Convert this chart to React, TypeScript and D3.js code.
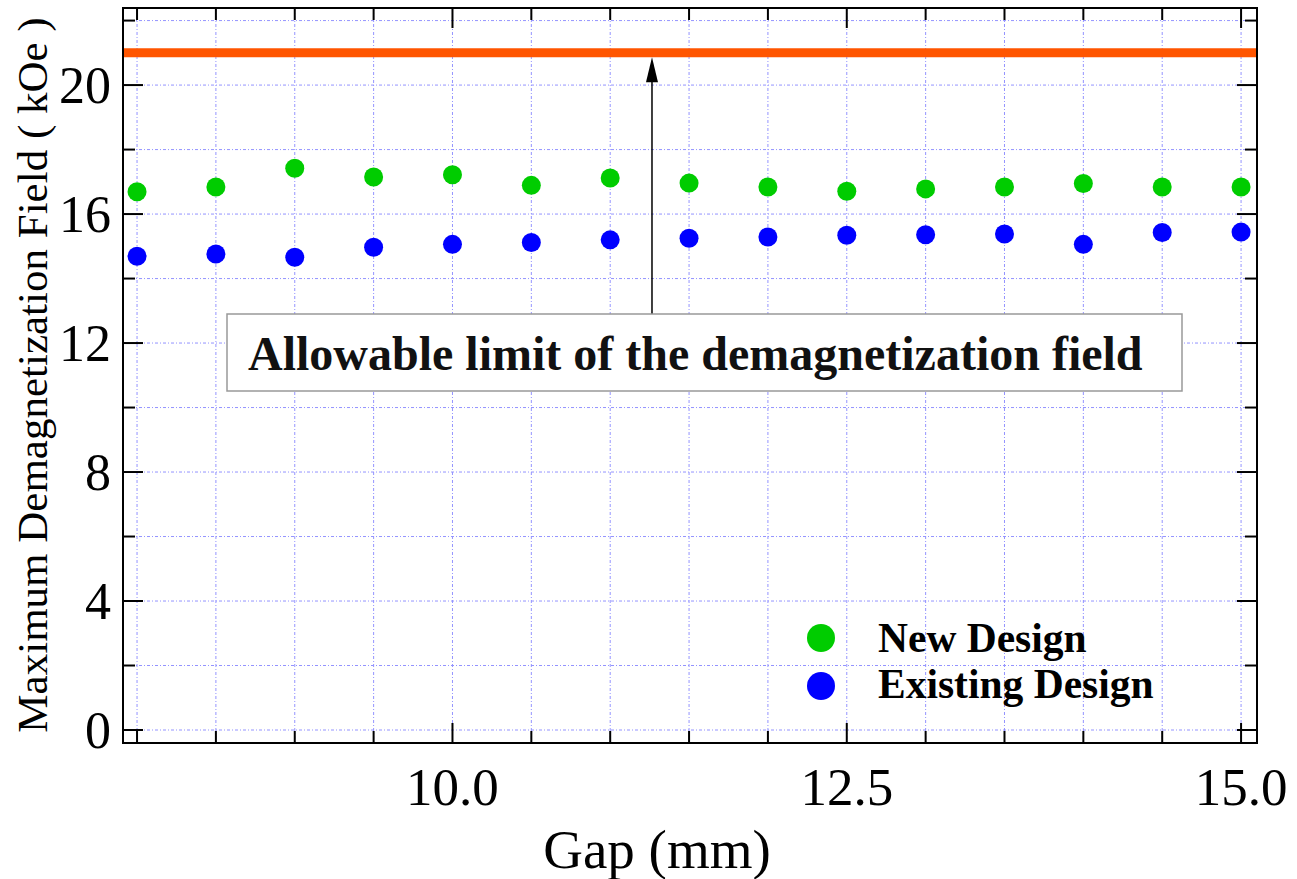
import React from "react";
import * as d3 from "d3";

// Gap between magnets (mm)
const gaps = [8.0, 8.5, 9.0, 9.5, 10.0, 10.5, 11.0, 11.5, 12.0, 12.5, 13.0, 13.5, 14.0, 14.5, 15.0];
// Maximum demagnetization field (kOe)
const newDesign = [16.69, 16.84, 17.42, 17.15, 17.22, 16.89, 17.12, 16.96, 16.84, 16.71, 16.78, 16.84, 16.95, 16.84, 16.84];
const existingDesign = [14.69, 14.76, 14.66, 14.97, 15.06, 15.12, 15.2, 15.25, 15.29, 15.34, 15.36, 15.38, 15.06, 15.43, 15.44];
const allowableLimit = 21;

const yMajorTicks = [0, 4, 8, 12, 16, 20];
const yMinorTicks = [2, 6, 10, 14, 18, 22];
const xMajorTicks = [10.0, 12.5, 15.0];
const xTickLabels = ["10.0", "12.5", "15.0"];
const seriesNames = ["New Design", "Existing Design"];
const seriesColors = ["#00cc00", "#0000ff"];
const annotationText = "Allowable limit of the demagnetization field";
const arrowGap = 11.265;

const W = 1297;
const H = 879;
const plot = { left: 123, right: 1257, top: 8, bottom: 743 };
const FONT = "'Liberation Serif', 'Times New Roman', serif";

export default function App() {
  const x = d3.scaleLinear().domain([7.911, 15.101]).range([plot.left, plot.right]);
  const y = d3.scaleLinear().domain([-0.403, 22.39]).range([plot.bottom, plot.top]);

  const gridStroke = "#7070ff";
  const gridDash = "3,2,1,2";
  const hGrid = d3.range(0, 23, 2);
  const majorLen = 20;
  const minorLen = 12;
  const xMinor = gaps.filter((g) => !xMajorTicks.includes(g));

  const limitY = y(allowableLimit);
  const limitW = 9;
  const arrowX = x(arrowGap);
  const tipY = limitY + limitW / 2;
  const box = { x: 227, y: 314, w: 955, h: 77 };

  return (
    <svg
      width={W}
      height={H}
      viewBox={`0 0 ${W} ${H}`}
      style={{ position: "absolute", left: 0, top: 0, display: "block", background: "#fff" }}
      fontFamily={FONT}
    >
      <rect x={0} y={0} width={W} height={H} fill="#fff" />

      {/* grid */}
      <g stroke={gridStroke} strokeWidth={1} strokeDasharray={gridDash} opacity={0.75}>
        {gaps.map((g) => (
          <line key={`vg${g}`} x1={x(g)} x2={x(g)} y1={plot.top} y2={plot.bottom} />
        ))}
        {hGrid.map((v) => (
          <line key={`hg${v}`} x1={plot.left} x2={plot.right} y1={y(v)} y2={y(v)} />
        ))}
      </g>

      {/* allowable limit */}
      <line x1={plot.left} x2={plot.right} y1={limitY} y2={limitY} stroke="#ff5500" strokeWidth={limitW} />

      {/* data */}
      {gaps.map((g, i) => (
        <circle key={`n${g}`} cx={x(g)} cy={y(newDesign[i])} r={9.5} fill={seriesColors[0]} />
      ))}
      {gaps.map((g, i) => (
        <circle key={`e${g}`} cx={x(g)} cy={y(existingDesign[i])} r={9.5} fill={seriesColors[1]} />
      ))}

      {/* annotation arrow */}
      <line x1={arrowX} x2={arrowX} y1={box.y} y2={tipY + 20} stroke="#000" strokeWidth={1.5} />
      <path d={`M${arrowX},${tipY} L${arrowX - 6},${tipY + 25} L${arrowX + 6},${tipY + 25} Z`} fill="#000" />

      {/* annotation box */}
      <rect x={box.x} y={box.y} width={box.w} height={box.h} fill="#fff" stroke="#999" strokeWidth={1.5} />
      <text x={248} y={370} fontSize={48} fontWeight="bold" fill="#111">
        {annotationText}
      </text>

      {/* legend */}
      {seriesNames.map((name, i) => (
        <g key={name}>
          <circle cx={821} cy={638 + i * 48} r={14} fill={seriesColors[i]} />
          <text x={878} y={652 + i * 46} fontSize={41.5} fontWeight="bold" fill="#000">
            {name}
          </text>
        </g>
      ))}

      {/* frame */}
      <rect
        x={plot.left}
        y={plot.top}
        width={plot.right - plot.left}
        height={plot.bottom - plot.top}
        fill="none"
        stroke="#000"
        strokeWidth={2}
      />

      {/* ticks */}
      <g stroke="#000" strokeWidth={2}>
        {yMajorTicks.map((v) => (
          <g key={`ym${v}`}>
            <line x1={plot.left} x2={plot.left + majorLen} y1={y(v)} y2={y(v)} />
            <line x1={plot.right} x2={plot.right - majorLen} y1={y(v)} y2={y(v)} />
          </g>
        ))}
        {yMinorTicks.map((v) => (
          <g key={`yn${v}`}>
            <line x1={plot.left} x2={plot.left + minorLen} y1={y(v)} y2={y(v)} />
            <line x1={plot.right} x2={plot.right - minorLen} y1={y(v)} y2={y(v)} />
          </g>
        ))}
        {xMajorTicks.map((v) => (
          <g key={`xm${v}`}>
            <line x1={x(v)} x2={x(v)} y1={plot.bottom} y2={plot.bottom - majorLen} />
            <line x1={x(v)} x2={x(v)} y1={plot.top} y2={plot.top + majorLen} />
          </g>
        ))}
        {xMinor.map((v) => (
          <g key={`xn${v}`}>
            <line x1={x(v)} x2={x(v)} y1={plot.bottom} y2={plot.bottom - minorLen} />
            <line x1={x(v)} x2={x(v)} y1={plot.top} y2={plot.top + minorLen} />
          </g>
        ))}
      </g>

      {/* tick labels */}
      {yMajorTicks.map((v) => (
        <text key={`yl${v}`} x={111} y={y(v) + 18} fontSize={52} textAnchor="end" fill="#000">
          {String(v)}
        </text>
      ))}
      {xMajorTicks.map((v, i) => (
        <text key={`xl${v}`} x={x(v)} y={805} fontSize={53} textAnchor="middle" fill="#000">
          {xTickLabels[i]}
        </text>
      ))}

      {/* axis titles */}
      <text x={657} y={868} fontSize={55} textAnchor="middle" fill="#000">
        Gap (mm)
      </text>
      <text transform="translate(47,375) rotate(-90)" fontSize={43} textAnchor="middle" fill="#000">
        Maximum Demagnetization Field ( kOe )
      </text>
    </svg>
  );
}
